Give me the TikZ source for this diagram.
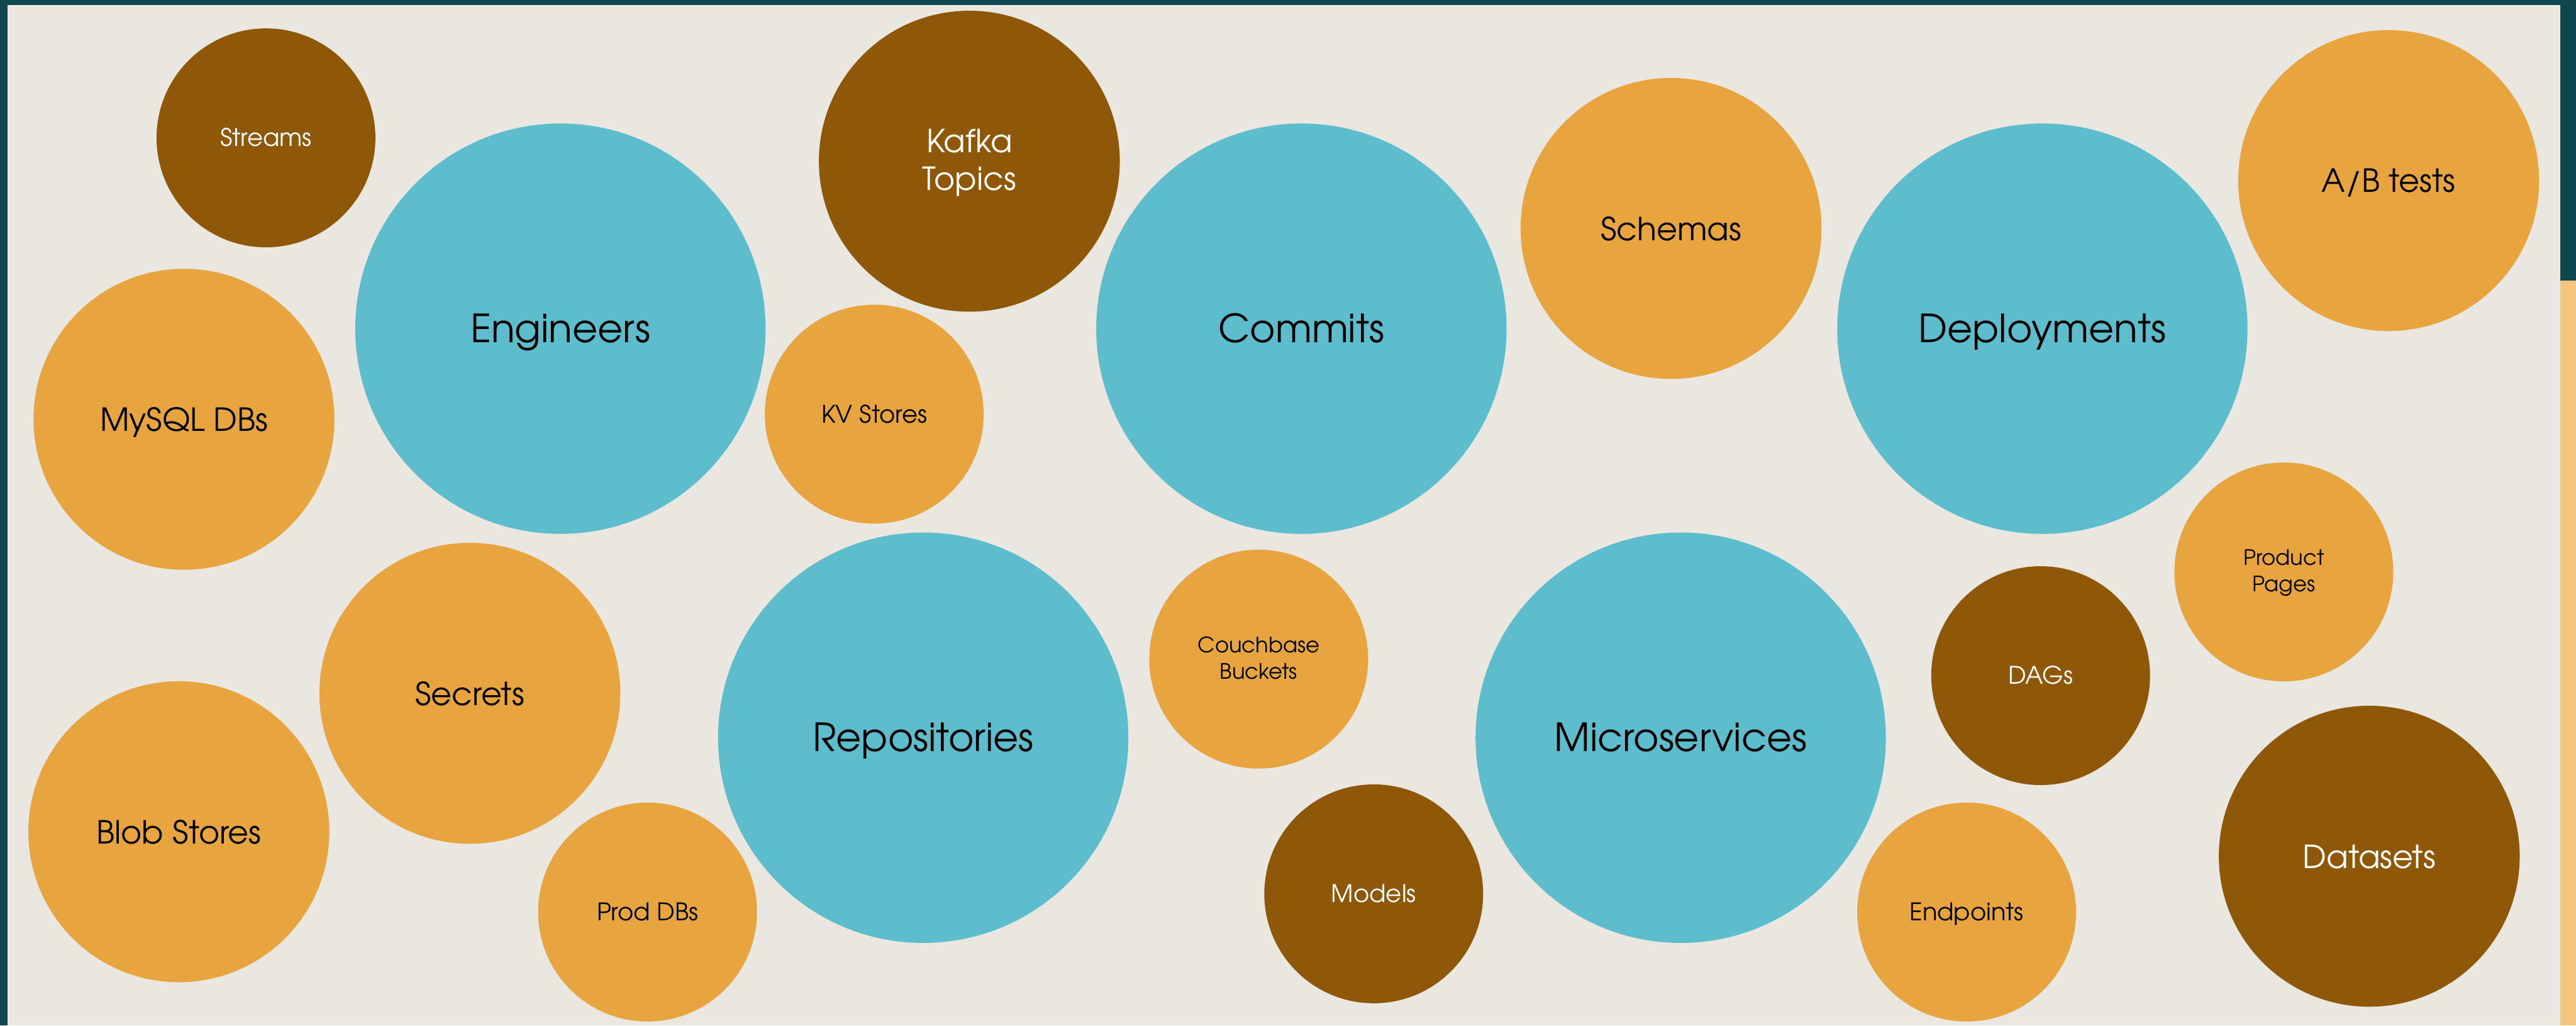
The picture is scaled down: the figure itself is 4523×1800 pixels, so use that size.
\documentclass[tikz,border=0pt]{standalone}
\usepackage{fontspec}
\setmainfont{texgyreadventor-regular.otf}
\definecolor{framebg}{HTML}{EAE6E0}
\definecolor{frameteal}{HTML}{0F4750}
\definecolor{stripe}{HTML}{F5C57D}
\definecolor{teal}{HTML}{5DBDCD}
\definecolor{amber}{HTML}{E7A43F}
\definecolor{umber}{HTML}{8F5708}
\tikzset{
  bubble/.style={circle, inner sep=0pt},
  big/.style={bubble, fill=teal, minimum size=7.2cm},
  mid/.style={bubble, fill=amber, minimum size=5.28cm},
  small/.style={bubble, fill=amber, minimum size=3.84cm},
  dark/.style={fill=umber},
  % struts give every caption the same line box, descenders or not
  caption/.style={inner sep=0pt, align=center, text=black,
    execute at begin node=\strut, execute at end node=\strut},
  bigtext/.style={caption, yshift=-0.08cm, font=\fontsize{19.4}{23}\selectfont},
  midtext/.style={caption, yshift=-0.075cm, font=\fontsize{15.9}{19}\selectfont},
  smalltext/.style={caption, yshift=-0.05cm, font=\fontsize{12.1}{14.5}\selectfont},
  tinytext/.style={caption, yshift=-0.045cm, font=\fontsize{10.6}{13.1}\selectfont},
  light/.style={text=white},
}
\begin{document}
\begin{tikzpicture}[x=0.01cm, y=-0.01cm]
  % canvas and frame
  \useasboundingbox (0,0) rectangle (4523,1800);
  \fill[framebg] (0,0) rectangle (4523,1800);
  \fill[frameteal] (0,0) rectangle (4523,9);
  \fill[frameteal] (0,0) rectangle (13,1800);
  \fill[frameteal] (4495,0) rectangle (4523,493);
  \fill[stripe] (4495,493) rectangle (4523,1800);

  % large bubbles
  \node[big] (eng) at (984,577) {};
  \node[big] (com) at (2285,577) {};
  \node[big] (dep) at (3586,577) {};
  \node[big] (rep) at (1621,1295) {};
  \node[big] (mic) at (2951,1295) {};

  % medium bubbles
  \node[mid, dark] (kaf) at (1702,283) {};
  \node[mid] (mys) at (323,736) {};
  \node[mid] (sch) at (2934,401) {};
  \node[mid] (abt) at (4194,317) {};
  \node[mid] (sec) at (825,1217) {};
  \node[mid] (blb) at (314,1460) {};
  \node[mid, dark] (dat) at (4160,1503) {};

  % small bubbles
  \node[small, dark] (str) at (467,242) {};
  \node[small] (kvs) at (1535,727) {};
  \node[small] (cbb) at (2210,1157) {};
  \node[small] (prp) at (4010,1004) {};
  \node[small, dark] (dag) at (3583,1186) {};
  \node[small] (prd) at (1137,1601) {};
  \node[small, dark] (mod) at (2412,1569) {};
  \node[small] (end) at (3453,1601) {};

  % captions
  \node[bigtext] (eng-t) at (eng.center) {Engineers};
  \node[bigtext] (com-t) at (com.center) {Commits};
  \node[bigtext] (dep-t) at (dep.center) {Deployments};
  \node[bigtext] (rep-t) at (rep.center) {Repositories};
  \node[bigtext] (mic-t) at (mic.center) {Microservices};

  \node[midtext, light] (kaf-t) at (kaf.center) {Kafka\\Topics};
  \node[midtext] (mys-t) at (mys.center) {MySQL DBs};
  \node[midtext] (sch-t) at (sch.center) {Schemas};
  \node[midtext] (abt-t) at (abt.center) {A/B tests};
  \node[midtext] (sec-t) at (sec.center) {Secrets};
  \node[midtext] (blb-t) at (blb.center) {Blob Stores};
  \node[midtext, light] (dat-t) at (dat.center) {Datasets};

  \node[smalltext, light] (str-t) at (str.center) {Streams};
  \node[smalltext] (kvs-t) at (kvs.center) {KV Stores};
  \node[tinytext] (cbb-t) at (cbb.center) {Couchbase\\Buckets};
  \node[tinytext] (prp-t) at (prp.center) {Product\\Pages};
  \node[smalltext, light] (dag-t) at (dag.center) {DAGs};
  \node[smalltext] (prd-t) at (prd.center) {Prod DBs};
  \node[smalltext, light] (mod-t) at (mod.center) {Models};
  \node[smalltext] (end-t) at (end.center) {Endpoints};
\end{tikzpicture}
\end{document}
